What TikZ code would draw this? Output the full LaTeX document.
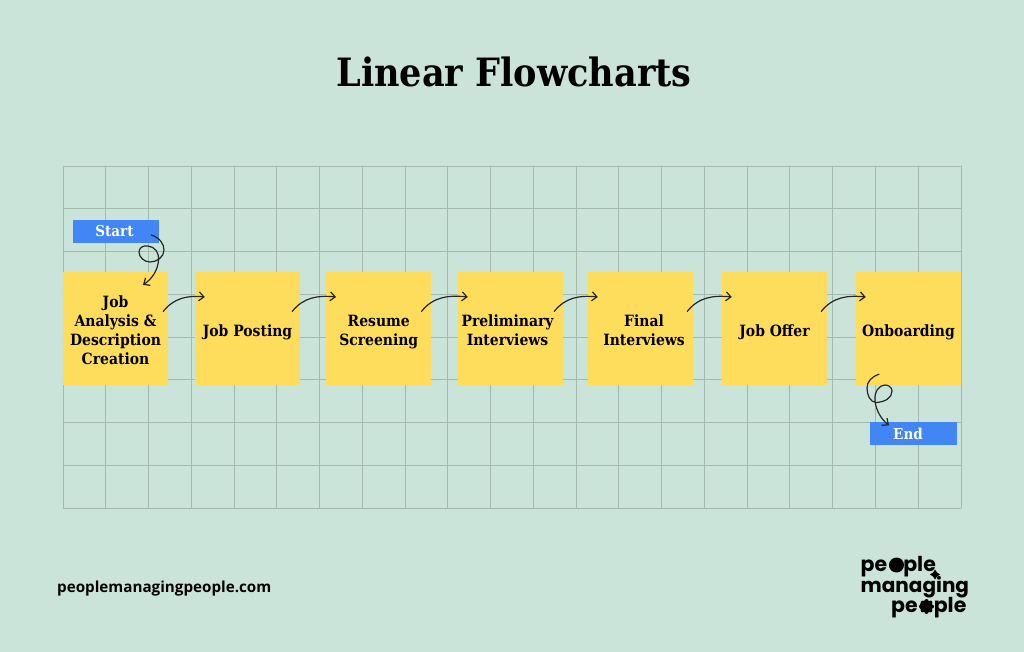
\documentclass[tikz,border=0pt]{standalone}
\usepackage{fontspec}
\setmainfont{DejaVu Serif Condensed}
\newfontfamily\logofont{Poppins}
\newfontfamily\urlfont{Open Sans}
\usetikzlibrary{arrows.meta}
\definecolor{bgmint}{RGB}{202,228,218}
\definecolor{gridgray}{RGB}{165,186,174}
\definecolor{noteyellow}{RGB}{255,221,92}
\definecolor{tagblue}{RGB}{66,133,244}
\definecolor{inkblack}{RGB}{38,38,38}
\tikzset{
  gridline/.style={line width=0.9pt,color=gridgray},
  stepbox/.style={fill=noteyellow,minimum width=105pt,minimum height=113pt,inner sep=0pt,align=center,font=\fontsize{15.5}{19}\selectfont\bfseries},
  tagbox/.style={fill=tagblue,text=white,minimum width=86.5pt,minimum height=23pt,inner sep=0pt,font=\fontsize{15}{16}\selectfont\bfseries},
  flowarrow/.style={-{Straight Barb[length=5pt,width=9pt]},line width=1.2pt,color=inkblack},
  logotext/.style={inner sep=0pt,anchor=base west,font=\logofont\fontsize{20.5}{22}\selectfont\bfseries}
}
\newcommand{\logoword}{pe\kern1.5pt o\kern1.5pt ple}
\newcommand{\lowerline}[1]{\rule{0pt}{#1pt}}
\begin{document}
\begin{tikzpicture}[line cap=round,line join=round,x=1pt,y=-1pt]
\useasboundingbox (0,0) rectangle (1024,652);
\fill[bgmint] (0,0) rectangle (1024,652);
\foreach \i in {0,...,21} \draw[gridline] ({63+42.76*\i},166) -- ({63+42.76*\i},508);
\foreach \j in {0,...,8} \draw[gridline] (63,{166+42.75*\j}) -- (961,{166+42.75*\j});
\node[inner sep=0pt,font=\fontsize{39}{44}\selectfont\bfseries] (title) at (514,72) {Linear Flowcharts};
\node[stepbox] (analysis) at (115.5,328.5) {\lowerline{16}Job\\Analysis \&\\Description\\Creation};
\node[stepbox] (posting) at (247.5,328.5) {\lowerline{20}Job Posting};
\node[stepbox] (screening) at (378.75,328.5) {\lowerline{18}Resume\\Screening};
\node[stepbox] (preliminary) at (510.5,328.5) {\lowerline{16}\hspace*{-6pt}Preliminary\\\hspace*{-6pt}Interviews};
\node[stepbox] (final) at (640.5,328.5) {\lowerline{16}\hspace*{7pt}Final\\\hspace*{7pt}Interviews};
\node[stepbox] (offer) at (774.5,328.5) {\lowerline{20}Job Offer};
\node[stepbox] (onboarding) at (908.5,328.5) {\lowerline{20}Onboarding};
\node[tagbox] (start) at (116,231.5) {Start\hspace*{3pt}};
\node[tagbox] (end) at (913.5,433.5) {End\hspace*{11pt}};
\foreach \a/\b/\s in {analysis/posting/5,posting/screening/8,screening/preliminary/10,preliminary/final/9,final/offer/6,offer/onboarding/6}
  \draw[flowarrow] ([xshift=-\s pt,yshift=17pt]\a.east) to[out=52,in=174] ([xshift=10pt,yshift=31.5pt]\b.west);
\draw[flowarrow] ([xshift=-8pt,yshift=-3.5pt]start.east) .. controls (160,238) and (164,244) .. (164,250) .. controls (164,257) and (157,262) .. (150,262) .. controls (144,262) and (139,257) .. (139,252) .. controls (139,248) and (143,245) .. (148,246) .. controls (155,247) and (159,252) .. (158.5,260) .. controls (158,270) and (152,279) .. ([xshift=27.5pt,yshift=-13pt]analysis.north);
\draw[flowarrow] ([xshift=-29.5pt,yshift=11pt]onboarding.south) .. controls (871,377) and (867,382) .. (867,388) .. controls (867,395) and (870,402) .. (876,402.5) .. controls (885,402) and (892,398) .. (892,391) .. controls (892,387) and (888,385) .. (885,385) .. controls (879,385) and (874,392) .. (875,401) .. controls (876,411) and (882,420) .. ([xshift=-24.5pt,yshift=-3.5pt]end.north);
\node[inner sep=0pt,anchor=west,font=\urlfont\fontsize{15.2}{17}\selectfont\bfseries] (site) at (57,589) {peoplemanagingpeople.com};
\node[logotext] (logoa) at (860.5,571) {\logoword};
\node[logotext,font=\logofont\fontsize{20}{22}\selectfont\bfseries] (logob) at (860.5,592) {managing};
\node[logotext] (logoc) at (891,612.5) {\logoword};
\fill (896.5,565) circle (7.5pt);
\fill (926.5,606.5) circle (6pt);
\foreach \k in {0,45,...,315} \fill (926.5,606.5) ++(\k:5.5pt) circle (2pt);
\fill (935,569.5) -- (937,572.5) -- (940,574.5) -- (937,576.5) -- (935,579.5) -- (933,576.5) -- (930,574.5) -- (933,572.5) -- cycle;
\end{tikzpicture}
\end{document}
